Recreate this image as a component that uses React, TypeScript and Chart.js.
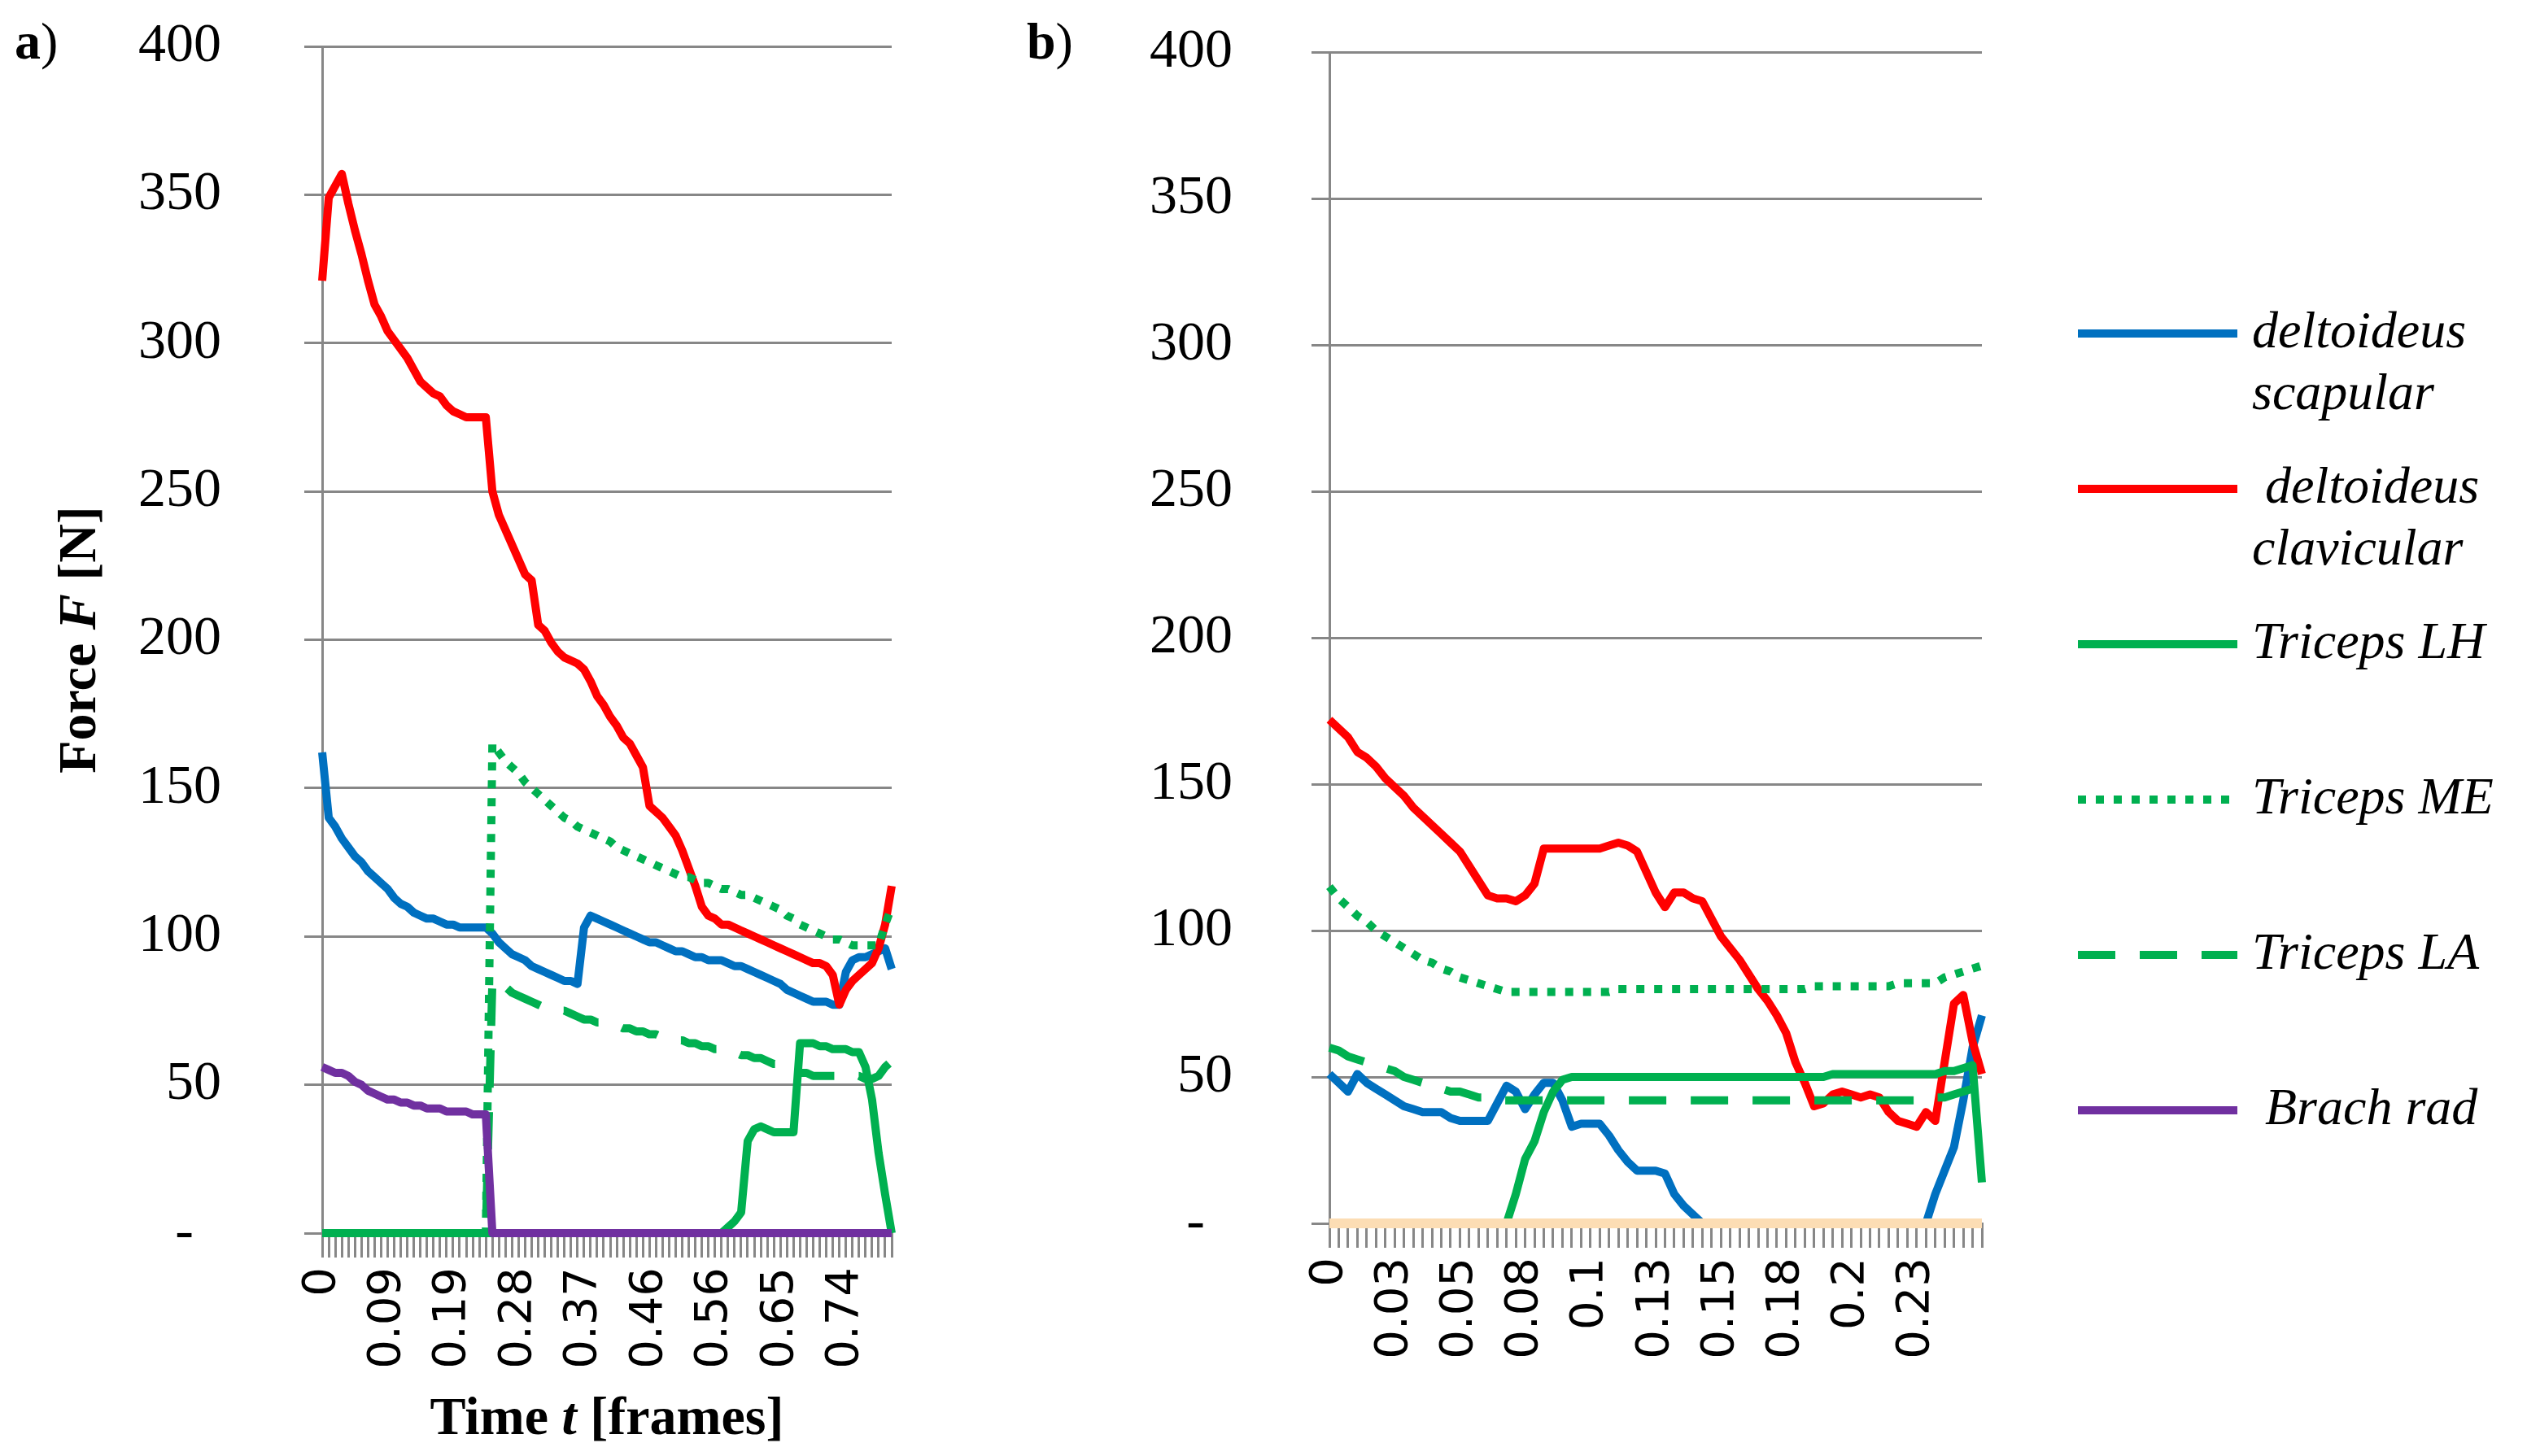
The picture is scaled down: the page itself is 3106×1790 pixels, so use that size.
import { useEffect, useRef } from 'react';
import { Chart, registerables, type ChartConfiguration, type Plugin } from 'chart.js';

Chart.register(...registerables);

const SERIF = '"Liberation Serif", "Times New Roman", serif';
const SANS = '"DejaVu Sans", Verdana, sans-serif';
const GRID = '#878787';
const BLUE = '#0070C0';
const RED = '#FF0000';
const GREEN = '#00B050';
const PURPLE = '#7030A0';
const PEACH = '#FCDDB4';

Chart.defaults.font.family = SERIF;
Chart.defaults.color = '#000';

// ---- panel a) : 88 frames, time label every 10th frame
const TICKS_A = ['0', '0.09', '0.19', '0.28', '0.37', '0.46', '0.56', '0.65', '0.74'];
const STEP_A = 10;

const SCAP_A = [
  162, 140, 137, 133, 130, 127, 125, 122, 120, 118,
  116, 113, 111, 110, 108, 107, 106, 106, 105, 104,
  104, 103, 103, 103, 103, 103, 101, 98, 96, 94,
  93, 92, 90, 89, 88, 87, 86, 85, 85, 84,
  103, 107, 106, 105, 104, 103, 102, 101, 100, 99,
  98, 98, 97, 96, 95, 95, 94, 93, 93, 92,
  92, 92, 91, 90, 90, 89, 88, 87, 86, 85,
  84, 82, 81, 80, 79, 78, 78, 78, 77, 77,
  88, 92, 93, 93, 94, 95, 96, 89,
];
const CLAV_A = [
  321, 349, 353, 357, 347, 338, 330, 321, 313, 309,
  304, 301, 298, 295, 291, 287, 285, 283, 282, 279,
  277, 276, 275, 275, 275, 275, 250, 242, 237, 232,
  227, 222, 220, 205, 203, 199, 196, 194, 193, 192,
  190, 186, 181, 178, 174, 171, 167, 165, 161, 157,
  144, 142, 140, 137, 134, 129, 123, 117, 110, 107,
  106, 104, 104, 103, 102, 101, 100, 99, 98, 97,
  96, 95, 94, 93, 92, 91, 91, 90, 87, 77,
  82, 85, 87, 89, 91, 96, 104, 117,
];
const LH_A = [
  0, 0, 0, 0, 0, 0, 0, 0, 0, 0,
  0, 0, 0, 0, 0, 0, 0, 0, 0, 0,
  0, 0, 0, 0, 0, 0, 0, 0, 0, 0,
  0, 0, 0, 0, 0, 0, 0, 0, 0, 0,
  0, 0, 0, 0, 0, 0, 0, 0, 0, 0,
  0, 0, 0, 0, 0, 0, 0, 0, 0, 0,
  0, 0, 2, 4, 7, 31, 35, 36, 35, 34,
  34, 34, 34, 64, 64, 64, 63, 63, 62, 62,
  62, 61, 61, 56, 45, 27, 13, 0,
];
const ME_A = [
  0, 0, 0, 0, 0, 0, 0, 0, 0, 0,
  0, 0, 0, 0, 0, 0, 0, 0, 0, 0,
  0, 0, 0, 0, 0, 0, 165, 162, 159, 157,
  155, 152, 150, 148, 146, 144, 142, 140, 139, 137,
  136, 135, 134, 133, 132, 130, 129, 128, 127, 126,
  125, 124, 123, 122, 121, 120, 120, 119, 118, 118,
  117, 116, 116, 115, 114, 114, 113, 112, 111, 110,
  109, 107, 106, 104, 103, 102, 101, 100, 99, 99,
  98, 97, 97, 97, 97, 97, 104, 110,
];
const LA_A = [
  0, 0, 0, 0, 0, 0, 0, 0, 0, 0,
  0, 0, 0, 0, 0, 0, 0, 0, 0, 0,
  0, 0, 0, 0, 0, 0, 85, 84, 83, 81,
  80, 79, 78, 77, 76, 76, 75, 75, 74, 73,
  72, 72, 71, 71, 70, 70, 69, 69, 68, 68,
  67, 67, 66, 66, 65, 65, 64, 64, 63, 63,
  62, 62, 61, 61, 60, 60, 59, 59, 58, 57,
  57, 56, 55, 54, 54, 53, 53, 53, 53, 53,
  53, 53, 53, 52, 52, 53, 56, 58,
];
const BRACH_A = [
  56, 55, 54, 54, 53, 51, 50, 48, 47, 46,
  45, 45, 44, 44, 43, 43, 42, 42, 42, 41,
  41, 41, 41, 40, 40, 40, 0, 0, 0, 0,
  0, 0, 0, 0, 0, 0, 0, 0, 0, 0,
  0, 0, 0, 0, 0, 0, 0, 0, 0, 0,
  0, 0, 0, 0, 0, 0, 0, 0, 0, 0,
  0, 0, 0, 0, 0, 0, 0, 0, 0, 0,
  0, 0, 0, 0, 0, 0, 0, 0, 0, 0,
  0, 0, 0, 0, 0, 0, 0, 0,
];

// ---- panel b) : 71 frames, time label every 7th frame
const TICKS_B = ['0', '0.03', '0.05', '0.08', '0.1', '0.13', '0.15', '0.18', '0.2', '0.23'];
const STEP_B = 7;

const SCAP_B = [
  51, 48, 45, 51, 48, 46, 44, 42, 40, 39,
  38, 38, 38, 36, 35, 35, 35, 35, 41, 47,
  45, 39, 44, 48, 48, 42, 33, 34, 34, 34,
  30, 25, 21, 18, 18, 18, 17, 10, 6, 3,
  0, 0, 0, 0, 0, 0, 0, 0, 0, 0,
  0, 0, 0, 0, 0, 0, 0, 0, 0, 0,
  0, 0, 0, 0, 0, 10, 18, 26, 42, 60,
  71,
];
const CLAV_B = [
  172, 169, 166, 161, 159, 156, 152, 149, 146, 142,
  139, 136, 133, 130, 127, 122, 117, 112, 111, 111,
  110, 112, 116, 128, 128, 128, 128, 128, 128, 128,
  129, 130, 129, 127, 120, 113, 108, 113, 113, 111,
  110, 104, 98, 94, 90, 85, 80, 76, 71, 65,
  55, 48, 40, 41, 44, 45, 44, 43, 44, 43,
  38, 35, 34, 33, 38, 35, 55, 75, 78, 62,
  51,
];
const LH_B = [
  0, 0, 0, 0, 0, 0, 0, 0, 0, 0,
  0, 0, 0, 0, 0, 0, 0, 0, 0, 0,
  10, 22, 28, 38, 45, 49, 50, 50, 50, 50,
  50, 50, 50, 50, 50, 50, 50, 50, 50, 50,
  50, 50, 50, 50, 50, 50, 50, 50, 50, 50,
  50, 50, 50, 50, 51, 51, 51, 51, 51, 51,
  51, 51, 51, 51, 51, 51, 52, 52, 53, 54,
  14,
];
const ME_B = [
  115, 111, 108, 105, 103, 100, 98, 96, 94, 92,
  90, 89, 87, 86, 84, 83, 82, 81, 80, 79,
  79, 79, 79, 79, 79, 79, 79, 79, 79, 79,
  79, 80, 80, 80, 80, 80, 80, 80, 80, 80,
  80, 80, 80, 80, 80, 80, 80, 80, 80, 80,
  80, 80, 81, 81, 81, 81, 81, 81, 81, 81,
  81, 82, 82, 82, 82, 82, 84, 85, 86, 87,
  88,
];
const LA_B = [
  60, 59, 57, 56, 55, 54, 53, 52, 50, 49,
  48, 47, 46, 45, 45, 44, 43, 43, 42, 42,
  42, 42, 42, 42, 42, 42, 42, 42, 42, 42,
  42, 42, 42, 42, 42, 42, 42, 42, 42, 42,
  42, 42, 42, 42, 42, 42, 42, 42, 42, 42,
  42, 42, 42, 42, 42, 42, 42, 42, 42, 42,
  42, 42, 42, 42, 42, 43, 43, 44, 45, 46,
  47,
];
const BASE_B = [
  0, 0, 0, 0, 0, 0, 0, 0, 0, 0,
  0, 0, 0, 0, 0, 0, 0, 0, 0, 0,
  0, 0, 0, 0, 0, 0, 0, 0, 0, 0,
  0, 0, 0, 0, 0, 0, 0, 0, 0, 0,
  0, 0, 0, 0, 0, 0, 0, 0, 0, 0,
  0, 0, 0, 0, 0, 0, 0, 0, 0, 0,
  0, 0, 0, 0, 0, 0, 0, 0, 0, 0,
  0,
];

type Style = { color: string; width: number; dash: number[] };
const S_SCAP: Style = { color: BLUE, width: 10, dash: [] };
const S_CLAV: Style = { color: RED, width: 10, dash: [] };
const S_LH: Style = { color: GREEN, width: 10, dash: [] };
const S_ME: Style = { color: GREEN, width: 10, dash: [10, 12] };
const S_LA: Style = { color: GREEN, width: 10, dash: [46, 30] };
const S_BRACH: Style = { color: PURPLE, width: 10, dash: [] };
const S_BASE: Style = { color: PEACH, width: 12, dash: [] };

const LEGEND: { lines: string[]; style: Style }[] = [
  { lines: ['deltoideus', 'scapular'], style: S_SCAP },
  { lines: [' deltoideus', 'clavicular'], style: S_CLAV },
  { lines: ['Triceps LH'], style: S_LH },
  { lines: ['Triceps ME'], style: S_ME },
  { lines: ['Triceps LA'], style: S_LA },
  { lines: [' Brach rad'], style: S_BRACH },
];

function series(label: string, data: number[], s: Style, order: number) {
  return {
    label,
    data,
    borderColor: s.color,
    backgroundColor: s.color,
    borderWidth: s.width,
    borderDash: s.dash,
    borderCapStyle: 'butt' as const,
    borderJoinStyle: 'round' as const,
    pointRadius: 0,
    tension: 0,
    fill: false,
    clip: 12,
    order, // Excel draws later series on top
  };
}

// text with mixed bold / italic runs
function drawRich(ctx: CanvasRenderingContext2D, parts: [string, string][], x: number, y: number, align: 'left' | 'center') {
  ctx.save();
  ctx.fillStyle = '#000';
  ctx.textBaseline = 'middle';
  ctx.textAlign = 'left';
  const widths = parts.map(([t, f]) => { ctx.font = f; return ctx.measureText(t).width; });
  let cx = align === 'center' ? x - widths.reduce((a, b) => a + b, 0) / 2 : x;
  parts.forEach(([t, f], i) => { ctx.font = f; ctx.fillText(t, cx, y); cx += widths[i]; });
  ctx.restore();
}

const BOLD = `bold 66px ${SERIF}`;
const BOLD_IT = `italic bold 66px ${SERIF}`;
const PANEL_BOLD = `bold 64px ${SERIF}`;
const PANEL_REG = `64px ${SERIF}`;

const textsA: Plugin = {
  id: 'textsA',
  afterDraw(chart) {
    const { ctx, chartArea } = chart;
    drawRich(ctx, [['a', PANEL_BOLD], [')', PANEL_REG]], 18, 55, 'left');
    ctx.save();
    ctx.translate(100, (chartArea.top + chartArea.bottom) / 2);
    ctx.rotate(-Math.PI / 2);
    drawRich(ctx, [['Force ', BOLD], ['F', BOLD_IT], [' [N]', BOLD]], 0, 0, 'center');
    ctx.restore();
    drawRich(ctx, [['Time ', BOLD], ['t', BOLD_IT], [' [frames]', BOLD]], (chartArea.left + chartArea.right) / 2, 1746, 'center');
  },
};

const textsB: Plugin = {
  id: 'textsB',
  afterDraw(chart) {
    const { ctx } = chart;
    drawRich(ctx, [['b', PANEL_BOLD], [')', PANEL_REG]], 112, 55, 'left');
    const x0 = 1404;
    const x1 = 1600;
    LEGEND.forEach((item, i) => {
      const y = 410 + i * 191;
      ctx.save();
      ctx.strokeStyle = item.style.color;
      ctx.lineWidth = item.style.width;
      ctx.setLineDash(item.style.dash);
      ctx.lineCap = 'butt';
      ctx.beginPath();
      ctx.moveTo(x0, y);
      ctx.lineTo(x1, y);
      ctx.stroke();
      ctx.restore();
      item.lines.forEach((t, j) => drawRich(ctx, [[t, `italic 64px ${SERIF}`]], 1618, y + j * 76, 'left'));
    });
  },
};

type PanelLayout = { ticks: string[]; step: number; yWidth: number; xHeight: number; top: number; right: number; yPad: number };

function panelOptions(p: PanelLayout): any {
  return {
    animation: false,
    responsive: true,
    maintainAspectRatio: false,
    events: [],
    layout: { padding: { top: p.top, right: p.right, left: 0, bottom: 0 } },
    plugins: { legend: { display: false }, tooltip: { enabled: false }, title: { display: false } },
    scales: {
      x: {
        type: 'category',
        offset: false,
        grid: { drawOnChartArea: false, color: GRID, lineWidth: 3, tickLength: 30 },
        border: { color: GRID, width: 3 },
        ticks: {
          autoSkip: false,
          minRotation: 90,
          maxRotation: 90,
          padding: 12,
          color: '#000',
          font: { family: SANS, size: 56 },
          callback: (_v: unknown, i: number) => (i % p.step === 0 ? p.ticks[i / p.step] ?? '' : ''),
        },
        afterFit: (s: any) => {
          s.height = p.xHeight;
          s.paddingLeft = 0;
          s.paddingRight = 0;
        },
      },
      y: {
        min: 0,
        max: 400,
        grid: { color: GRID, lineWidth: 3, tickLength: 22 },
        border: { color: GRID, width: 3 },
        ticks: {
          stepSize: 50,
          padding: p.yPad,
          color: '#000',
          font: { family: SERIF, size: 68 },
          callback: (v: number) => (v === 0 ? '-  ' : String(v)),
        },
        afterFit: (s: any) => {
          // label padding must not push the plot area down
          s.width = p.yWidth;
          s.paddingTop = 0;
          s.paddingBottom = 0;
        },
      },
    },
  };
}

const FRAMES_A = SCAP_A.map((_, i) => i);
const FRAMES_B = SCAP_B.map((_, i) => i);

const CONFIG_A: ChartConfiguration = {
  type: 'line',
  data: {
    labels: FRAMES_A,
    datasets: [
      series('deltoideus scapular', SCAP_A, S_SCAP, 6),
      series('deltoideus clavicular', CLAV_A, S_CLAV, 5),
      series('Triceps LH', LH_A, S_LH, 4),
      series('Triceps ME', ME_A, S_ME, 3),
      series('Triceps LA', LA_A, S_LA, 2),
      series('Brach rad', BRACH_A, S_BRACH, 1),
    ],
  } as any,
  options: panelOptions({ ticks: TICKS_A, step: STEP_A, yWidth: 396, xHeight: 274, top: 57, right: 54, yPad: 102 }),
  plugins: [textsA],
};

const CONFIG_B: ChartConfiguration = {
  type: 'line',
  data: {
    labels: FRAMES_B,
    datasets: [
      series('deltoideus scapular', SCAP_B, S_SCAP, 6),
      series('deltoideus clavicular', CLAV_B, S_CLAV, 5),
      series('Triceps LH', LH_B, S_LH, 4),
      series('Triceps ME', ME_B, S_ME, 3),
      series('Triceps LA', LA_B, S_LA, 2),
      series('Brach rad', BASE_B, S_BASE, 0),
    ],
  } as any,
  options: panelOptions({ ticks: TICKS_B, step: STEP_B, yWidth: 484, xHeight: 286, top: 64, right: 670, yPad: 97 }),
  plugins: [textsB],
};

function Panel({ config, left, width }: { config: ChartConfiguration; left: number; width: number }) {
  const canvasRef = useRef<HTMLCanvasElement>(null);

  useEffect(() => {
    if (!canvasRef.current) return;
    const chart = new Chart(canvasRef.current, config);
    return () => { chart.destroy(); };
  }, [config]);

  return (
    <div style={{ position: 'absolute', left, top: 0, width, height: 1790 }}>
      <canvas ref={canvasRef} />
    </div>
  );
}

export default function App() {
  return (
    <div style={{ position: 'absolute', left: 0, top: 0, width: 3106, height: 1790, background: '#fff', overflow: 'hidden' }}>
      <Panel config={CONFIG_A} left={0} width={1150} />
      <Panel config={CONFIG_B} left={1150} width={1956} />
    </div>
  );
}
